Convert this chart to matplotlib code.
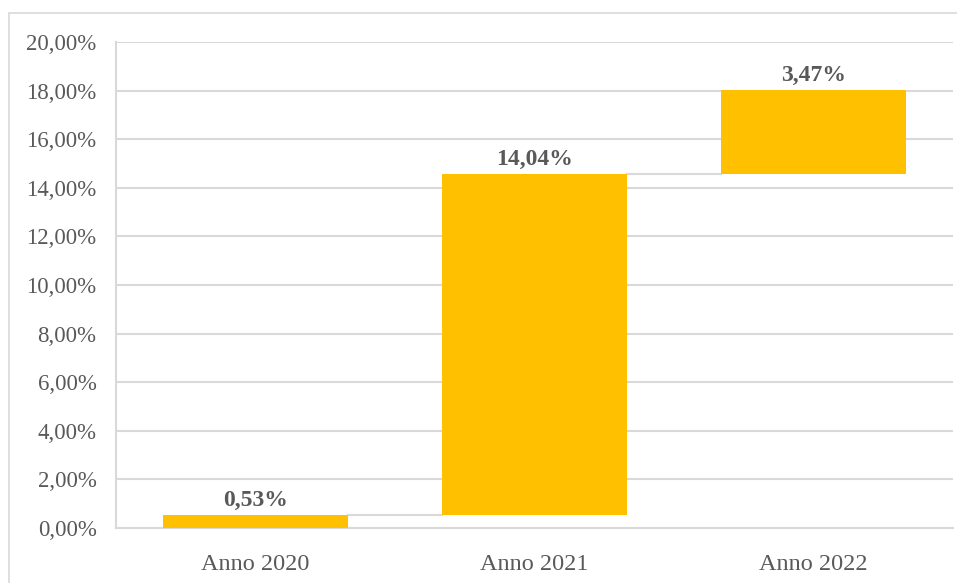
import matplotlib
matplotlib.use("Agg")
import matplotlib.pyplot as plt
import numpy as np
from matplotlib.patches import Rectangle

categories = ["Anno 2020", "Anno 2021", "Anno 2022"]
increments = [0.53, 14.04, 3.47]
labels = ["0,53%", "14,04%", "3,47%"]
yticks = [0, 2, 4, 6, 8, 10, 12, 14, 16, 18, 20]

W, H = 957, 583
fig = plt.figure(figsize=(W / 100, H / 100), dpi=100)
plt.rcParams['font.family'] = ['Liberation Serif', 'DejaVu Serif']

# chart border
fig.patches.append(Rectangle((9 / W, -0.05), 1.1, 1 - 13 / H + 0.05, transform=fig.transFigure,
                             fill=False, edgecolor="#d9d9d9", lw=1.2))

ax = fig.add_axes([116 / W, 1 - 528 / H, (953 - 116) / W, (528 - 42) / H])
inc = np.array(increments)
tops = np.cumsum(inc)
bottoms = tops - inc
x = np.arange(len(categories))
bw = 0.66
ax.bar(x, inc, bottom=bottoms, width=bw, color="#FFC000", zorder=3)

# connector lines
for i in range(len(x) - 1):
    ax.plot([x[i] + bw / 2, x[i + 1] - bw / 2], [tops[i], tops[i]], color="#d9d9d9", lw=1.5, zorder=2)

for xi, t, lab in zip(x, tops, labels):
    ax.annotate(lab, (xi, t), xytext=(0, 3), textcoords="offset points", ha="center", va="bottom",
                fontsize=17, fontweight="bold", color="#595959")

ax.set_xlim(-0.5, len(categories) - 0.5)
ax.set_ylim(0, 20)
ax.set_yticks(yticks)
ax.set_yticklabels([f"{v:.2f}".replace(".", ",") + "%" for v in yticks])
ax.set_xticks(x)
ax.set_xticklabels(categories)
ax.tick_params(axis="both", length=0, labelcolor="#595959")
ax.tick_params(axis="y", pad=14, labelsize=16.5)
ax.tick_params(axis="x", pad=19, labelsize=17.5)
ax.yaxis.grid(True, color="#d9d9d9", lw=1.5, zorder=0)
ax.set_axisbelow(True)
for s in ["top", "right"]:
    ax.spines[s].set_visible(False)
for s in ["left", "bottom"]:
    ax.spines[s].set_color("#d9d9d9")
    ax.spines[s].set_linewidth(1.5)

fig.savefig("out.png", dpi=100)
